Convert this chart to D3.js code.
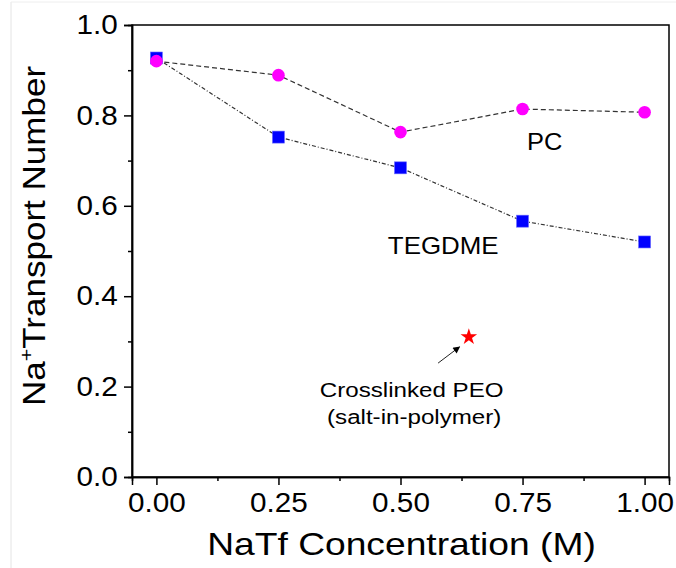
<!DOCTYPE html>
<html lang="en">
<head>
<meta charset="utf-8">
<title>Na+ transport number</title>
<script src="https://d3js.org/d3.v7.min.js"></script>
<style>
  body { margin: 0; background: #fff; }
  text { font-family: "Liberation Sans", Arial, sans-serif; fill: #000; }
</style>
</head>
<body>
<div id="chart"></div>
<script>
// data
var concentrations = [0.00, 0.25, 0.50, 0.75, 1.00];
var pcValues = [0.920, 0.889, 0.763, 0.814, 0.807];
var tegdmeValues = [0.927, 0.752, 0.684, 0.566, 0.520];
var peoPoint = [0.64, 0.31];
var xTicks = [0, 0.25, 0.5, 0.75, 1.0];
var xMinorTicks = [0.125, 0.375, 0.625, 0.875];
var yTicks = [0, 0.2, 0.4, 0.6, 0.8, 1.0];
var yMinorTicks = [0.1, 0.3, 0.5, 0.7, 0.9];

var width = 676, height = 568;
// plot box edges
var boxLeft = 132, boxRight = 669, boxTop = 25, boxBottom = 477;

var svg = d3.select("#chart").append("svg")
    .attr("width", width)
    .attr("height", height);

// faint frame of the original screenshot
svg.append("line").attr("x1", 11).attr("x2", 11).attr("y1", 2).attr("y2", height)
    .attr("stroke", "#e4e4e4");
svg.append("line").attr("x1", 11).attr("x2", width).attr("y1", 2).attr("y2", 2)
    .attr("stroke", "#eeeeee");

var x = d3.scaleLinear().domain([-0.05, 1.05]).range([boxLeft, boxRight]);
var y = d3.scaleLinear().domain([0, 1]).range([boxBottom, boxTop]);

// the source image text is a bit wide, so stretch text horizontally
function wideText(px, py, size, stretch, anchor, str) {
    return svg.append("text")
        .attr("transform", "translate(" + px + "," + py + ") scale(" + stretch + ",1)")
        .attr("text-anchor", anchor)
        .style("font-size", size + "px")
        .text(str);
}

// box round the plot
svg.append("rect")
    .attr("x", boxLeft).attr("y", boxTop)
    .attr("width", boxRight - boxLeft).attr("height", boxBottom - boxTop)
    .attr("fill", "none").attr("stroke", "#000").attr("stroke-width", 1.5);

// y axis, major and minor ticks
svg.append("g")
    .attr("transform", "translate(" + boxLeft + ",0)")
    .call(d3.axisLeft(y).tickValues(yTicks).tickSize(8).tickPadding(5)
        .tickFormat(d3.format(".1f")));
svg.append("g")
    .attr("transform", "translate(" + boxLeft + ",0)")
    .call(d3.axisLeft(y).tickValues(yMinorTicks).tickSize(4).tickFormat(""));

// x axis
svg.append("g")
    .attr("transform", "translate(0," + boxBottom + ")")
    .call(d3.axisBottom(x).tickValues(xTicks).tickSize(8).tickPadding(8)
        .tickFormat(d3.format(".2f")));
svg.append("g")
    .attr("transform", "translate(0," + boxBottom + ")")
    .call(d3.axisBottom(x).tickValues(xMinorTicks).tickSize(4).tickFormat(""));

svg.selectAll(".domain").attr("stroke", "#000").attr("stroke-width", 1.5);
svg.selectAll(".tick line").attr("stroke", "#000").attr("stroke-width", 1.5);
svg.selectAll(".tick text")
    .style("font-family", '"Liberation Sans", Arial, sans-serif')
    .style("font-size", "27px")
    .attr("transform", "scale(1.1,1)")
    .attr("fill", "#000");

// axis titles
wideText((x(0) + x(1)) / 2 + 1, 555, 31, 1.2, "middle", "NaTf Concentration (M)");

var yTitle = svg.append("text")
    .attr("transform", "translate(45,236) rotate(-90) scale(1.13,1)")
    .attr("text-anchor", "middle")
    .style("font-size", "31px");
yTitle.append("tspan").text("Na");
yTitle.append("tspan").attr("dy", -12).style("font-size", "19px").text("+");
yTitle.append("tspan").attr("dy", 12).text("Transport Number");

// series lines
var pcPoints = concentrations.map(function(c, i){ return [c, pcValues[i]]; });
var tegPoints = concentrations.map(function(c, i){ return [c, tegdmeValues[i]]; });

var line = d3.line()
    .x(function(d){ return x(d[0]); })
    .y(function(d){ return y(d[1]); });

svg.append("path")
    .datum(pcPoints)
    .attr("d", line)
    .attr("fill", "none")
    .attr("stroke", "#333")
    .attr("stroke-width", 1.2)
    .attr("stroke-dasharray", "5,3");

svg.append("path")
    .datum(tegPoints)
    .attr("d", line)
    .attr("fill", "none")
    .attr("stroke", "#333")
    .attr("stroke-width", 1.2)
    .attr("stroke-dasharray", "4,2,1,2");

// markers: squares first, circles drawn on top
svg.selectAll(".sq")
    .data(tegPoints)
    .enter().append("rect")
    .attr("class", "sq")
    .attr("x", function(d){ return x(d[0]) - 6; })
    .attr("y", function(d){ return y(d[1]) - 6; })
    .attr("width", 12).attr("height", 12)
    .attr("fill", "#0000ff")
    .attr("stroke", "#6a6aff").attr("stroke-width", 0.6);

svg.selectAll(".dot")
    .data(pcPoints)
    .enter().append("circle")
    .attr("class", "dot")
    .attr("cx", function(d){ return x(d[0]); })
    .attr("cy", function(d){ return y(d[1]); })
    .attr("r", 6.3)
    .attr("fill", "#ff00ff");

// crosslinked PEO point
svg.append("path")
    .attr("d", d3.symbol().type(d3.symbolStar).size(85)())
    .attr("transform", "translate(" + x(peoPoint[0]) + "," + y(peoPoint[1]) + ")")
    .attr("fill", "#ff0000");

// arrow pointing at the star
svg.append("defs").append("marker")
    .attr("id", "head")
    .attr("viewBox", "0 0 10 10")
    .attr("refX", 9).attr("refY", 5)
    .attr("markerWidth", 9).attr("markerHeight", 7)
    .attr("markerUnits", "userSpaceOnUse")
    .attr("orient", "auto")
    .append("path").attr("d", "M0,0 L10,5 L0,10 z").attr("fill", "#000");

svg.append("line")
    .attr("x1", x(0.577)).attr("y1", y(0.252))
    .attr("x2", x(0.621)).attr("y2", y(0.288))
    .attr("stroke", "#222").attr("stroke-width", 1)
    .attr("marker-end", "url(#head)");

// labels
wideText(x(0.759), y(0.723), 24, 1.06, "start", "PC");
wideText(x(0.474), y(0.493), 24, 1.08, "start", "TEGDME");
wideText(x(0.523), y(0.177), 21, 1.15, "middle", "Crosslinked PEO");
wideText(x(0.528), y(0.117), 21, 1.15, "middle", "(salt-in-polymer)");
</script>
</body>
</html>
